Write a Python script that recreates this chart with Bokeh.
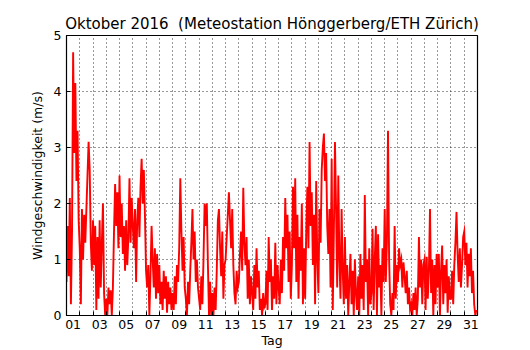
from bokeh.plotting import figure
from bokeh.models import FixedTicker, Range1d
from bokeh.embed import file_html
from bokeh.resources import INLINE

# wind speed (m/s), 12 readings per day (every 2 h), Oct 1 .. Oct 31
day01 = [0.6, 1.6, 0.7, 2.1, 0.2, 1.5, 4.7, 2.9, 4.15, 2.4, 3.3, 1.7]
day02 = [1.2, 0.2, 1.9, 1.0, 1.8, 1.3, 1.9, 2.5, 3.1, 2.6, 1.3, 0.8]
day03 = [1.7, 0.9, 1.6, 0.1, 1.4, 0.3, 1.7, 0.5, 1.3, 2.0, 0.4, 0.0]
day04 = [0.3, 0.0, 0.5, 0.2, 0.45, 0.0, 0.5, 1.5, 2.35, 1.6, 2.2, 1.2]
day05 = [2.5, 1.4, 2.0, 1.1, 1.6, 0.8, 1.7, 0.9, 1.4, 2.45, 1.3, 2.1]
day06 = [1.6, 1.2, 1.9, 0.6, 1.7, 2.1, 1.4, 2.3, 2.8, 2.0, 2.6, 1.8]
day07 = [0.8, 0.5, 0.9, 0.0, 0.7, 1.6, 1.0, 0.5, 1.2, 0.3, 1.1, 0.4]
day08 = [0.9, 0.2, 0.6, 0.1, 0.8, 0.3, 0.7, 0.05, 0.6, 0.2, 0.5, 0.1]
day09 = [0.4, 0.1, 0.7, 0.2, 0.9, 0.6, 1.2, 2.45, 1.5, 0.8, 1.4, 0.5]
day10 = [0.3, 0.0, 0.6, 0.2, 0.8, 1.3, 1.9, 1.0, 1.5, 0.6, 1.0, 0.5]
day11 = [0.3, 0.1, 0.7, 0.2, 1.0, 2.0, 1.6, 2.0, 0.9, 0.0, 0.6, 0.0]
day12 = [0.4, 0.0, 0.5, 0.1, 0.8, 1.7, 1.9, 1.2, 0.7, 1.5, 0.3, 0.9]
day13 = [1.0, 1.4, 1.8, 2.2, 1.7, 1.2, 1.9, 0.9, 0.4, 0.2, 0.8, 0.5]
day14 = [0.6, 1.1, 1.5, 0.8, 2.28, 1.3, 0.9, 1.4, 0.3, 1.0, 0.2, 0.7]
day15 = [0.4, 0.1, 0.9, 0.3, 1.2, 0.5, 0.8, 0.1, 0.3, 0.0, 0.4, 0.15]
day16 = [0.2, 0.8, 0.1, 1.4, 0.6, 1.0, 0.1, 0.7, 0.3, 1.3, 0.2, 0.9]
day17 = [0.5, 0.2, 1.0, 0.4, 1.4, 0.8, 2.1, 1.2, 1.8, 0.6, 1.5, 0.3]
day18 = [0.9, 2.3, 1.2, 2.45, 0.6, 1.8, 0.3, 1.4, 0.8, 2.0, 0.2, 1.2]
day19 = [0.3, 1.5, 2.3, 1.2, 3.1, 1.6, 2.2, 0.9, 1.8, 0.2, 2.4, 1.0]
day20 = [0.4, 1.9, 1.3, 2.6, 3.0, 3.25, 2.4, 2.9, 1.6, 1.1, 1.9, 0.5]
day21 = [2.8, 0.1, 1.5, 3.1, 1.9, 0.5, 2.5, 1.0, 0.3, 1.9, 0.8, 0.2]
day22 = [1.4, 0.3, 0.9, 0.0, 0.6, 1.1, 0.2, 0.8, 0.0, 1.0, 0.4, 0.1]
day23 = [0.7, 0.0, 1.1, 0.3, 0.9, 0.1, 2.15, 0.6, 1.0, 0.0, 1.2, 0.2]
day24 = [0.4, 1.55, 0.1, 1.0, 1.6, 0.0, 1.45, 0.5, 0.9, 0.0, 1.2, 0.6]
day25 = [1.9, 0.6, 1.3, 3.3, 1.0, 0.2, 0.0, 0.4, 0.1, 1.6, 0.3, 0.9]
day26 = [0.6, 1.2, 0.9, 1.0, 0.5, 0.95, 0.7, 0.4, 0.8, 0.2, 0.5, 0.1]
day27 = [0.2, 0.0, 0.4, 0.1, 0.5, 0.0, 0.3, 1.4, 0.5, 1.0, 0.2, 0.9]
day28 = [1.0, 0.1, 1.05, 0.3, 0.8, 1.9, 0.4, 1.0, 0.0, 0.9, 0.2, 1.1]
day29 = [0.5, 1.1, 0.0, 0.8, 1.25, 0.2, 0.9, 0.4, 1.0, 0.05, 0.7, 0.3]
day30 = [0.3, 0.8, 0.2, 0.9, 1.3, 1.85, 1.1, 0.6, 1.2, 0.5, 0.9, 1.4]
day31 = [1.5, 0.9, 1.3, 0.5, 1.1, 0.7, 1.2, 0.4, 0.8, 0.2, 0.0, 0.1]

days = [day01, day02, day03, day04, day05, day06, day07, day08, day09, day10,
        day11, day12, day13, day14, day15, day16, day17, day18, day19, day20,
        day21, day22, day23, day24, day25, day26, day27, day28, day29, day30, day31]

x_labels = ["01", "03", "05", "07", "09", "11", "13", "15", "17", "19",
            "21", "23", "25", "27", "29", "31"]
y_ticks = [0, 1, 2, 3, 4, 5]

READINGS_PER_DAY = 12
speed = [v for d in days for v in d]
t = [i / READINGS_PER_DAY for i in range(len(speed))]

FONT = "DejaVu Sans"

p = figure(width=530, height=350, output_backend="svg", toolbar_location=None,
           min_border_left=66, min_border_right=53, min_border_top=35,
           min_border_bottom=35,
           title="Oktober 2016 \u00a0(Meteostation Hönggerberg/ETH Zürich)")
p.x_range = Range1d(0, 31)
p.y_range = Range1d(0, 5)

p.line(t, speed, line_color="#ff0000", line_width=1.9, line_join="miter")

p.title.text_font = FONT
p.title.text_font_size = "15px"
p.title.text_font_style = "normal"
p.title.align = "center"
p.title.text_color = "black"
p.title.standoff = 5

label_pos = [2 * i + 0.5 for i in range(len(x_labels))]
p.xaxis.ticker = FixedTicker(ticks=label_pos, minor_ticks=list(range(1, 31)))
p.xaxis.major_label_overrides = {pos: lab for pos, lab in zip(label_pos, x_labels)}
p.xaxis.major_tick_in = 0
p.xaxis.major_tick_out = 0
p.xaxis.minor_tick_in = 4
p.xaxis.minor_tick_out = 0
p.xaxis.axis_label = "Tag"

p.yaxis.ticker = FixedTicker(ticks=y_ticks, minor_ticks=[])
p.yaxis.major_tick_in = 4
p.yaxis.major_tick_out = 0
p.yaxis.axis_label = "Windgeschwindigkeit (m/s)"

for ax in (p.xaxis, p.yaxis):
    ax.major_label_text_font = FONT
    ax.major_label_text_font_size = "12.5px"
    ax.major_label_text_color = "black"
    ax.axis_label_text_font = FONT
    ax.axis_label_text_font_size = "12.5px"
    ax.axis_label_text_font_style = "normal"
    ax.axis_label_text_color = "black"
    ax.axis_line_color = "black"
    ax.major_tick_line_color = "black"
    ax.minor_tick_line_color = "black"
p.xaxis.major_label_standoff = 4
p.xaxis.axis_label_standoff = 1
p.yaxis.major_label_standoff = 5
p.yaxis.axis_label_standoff = 6

p.xgrid.ticker = FixedTicker(ticks=list(range(1, 31)))
p.ygrid.ticker = FixedTicker(ticks=[1, 2, 3, 4])
for g in (p.xgrid, p.ygrid):
    g.grid_line_color = "black"
    g.grid_line_dash = "1 3"
    g.grid_line_width = 1
    g.grid_line_alpha = 0.8

p.outline_line_color = "black"
p.outline_line_width = 1.2
p.outline_line_alpha = 1
p.background_fill_color = "white"
p.border_fill_color = "white"

open("out.html", "w").write(file_html(p, INLINE))
